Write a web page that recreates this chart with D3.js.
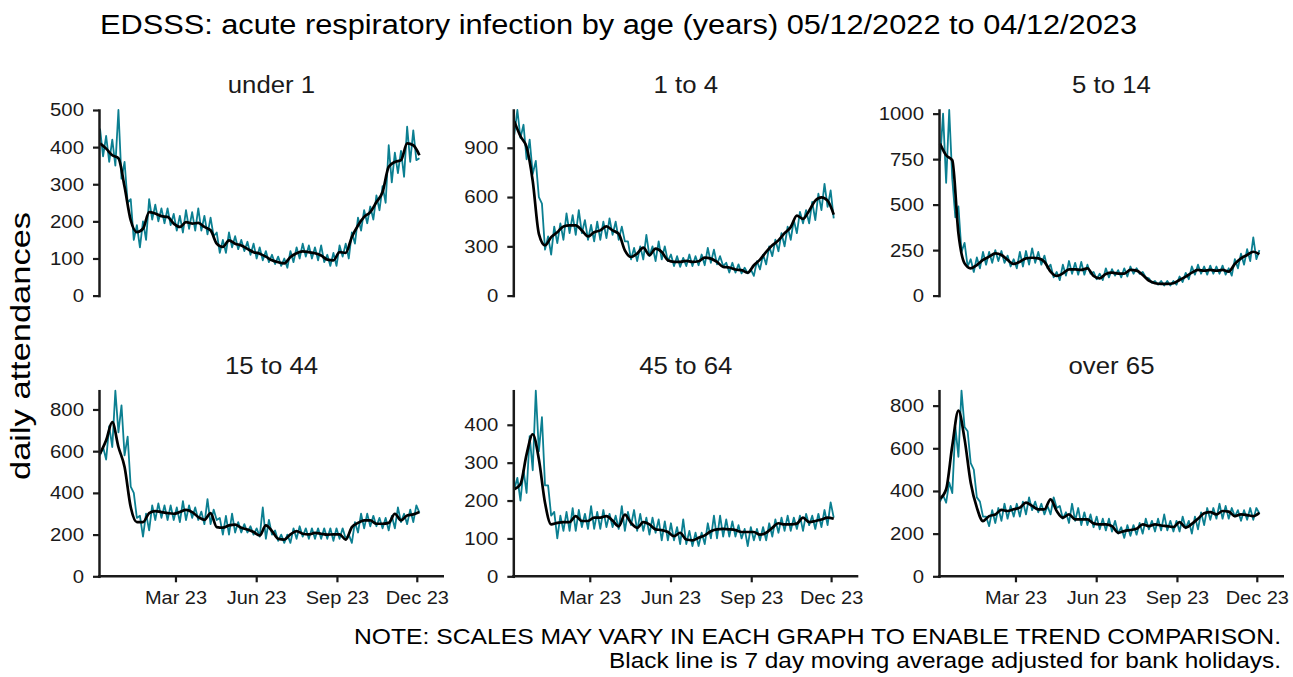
<!DOCTYPE html>
<html>
<head>
<meta charset="utf-8">
<script src="https://cdn.jsdelivr.net/npm/d3@7"></script>
<style>
  body { margin: 0; background: #fff; }
  svg { display: block; font-family: "Liberation Sans", Arial, sans-serif; }
</style>
</head>
<body>
<svg id="chart" width="1293" height="677"></svg>
<script>
// panel names, in facet order
const groups = ['under 1', '1 to 4', '5 to 14', '15 to 44', '45 to 64', 'over 65'];

// daily attendances, every 3.5 days from 05/12/2022
const rawUnder1 = [450,375,430,360,420,350,500,315,360,250,260,150,190,130,200,150,260,205,245,200,
  235,195,235,190,220,175,215,170,230,180,225,175,235,175,215,165,210,160,170,115,
  150,115,170,130,160,125,150,120,145,110,140,100,130,95,120,90,110,85,105,80,
  100,75,120,90,130,100,140,105,135,100,130,95,135,90,110,80,115,80,135,105,
  140,100,170,140,210,175,230,195,240,205,270,230,295,250,405,305,385,330,390,320,
  455,360,445,365,370];
const raw1to4 = [980,1130,960,1040,830,950,740,820,600,560,280,360,250,420,320,440,340,500,380,490,
  370,520,380,460,340,430,330,450,340,450,350,470,370,450,340,420,330,330,220,290,
  210,300,220,370,240,300,210,330,220,300,210,250,180,240,175,230,180,250,180,240,
  185,250,185,290,200,280,190,240,180,200,140,200,140,190,135,170,135,160,120,210,
  160,250,190,300,240,340,270,380,300,420,340,460,380,510,440,520,440,570,460,620,
  520,680,540,640,470];
const raw5to14 = [740,1000,620,1020,640,430,490,240,290,160,200,130,210,150,240,170,240,180,250,190,
  245,180,220,160,200,150,240,160,245,170,260,180,240,170,220,150,170,100,130,85,
  170,110,190,120,180,115,185,115,170,120,130,90,120,85,150,100,145,110,140,100,
  150,105,160,120,150,120,130,100,95,70,80,60,80,55,80,55,80,60,105,75,
  125,90,160,115,170,120,160,115,165,120,160,120,165,115,150,110,200,150,230,170,
  255,190,320,200,250];
const raw15to44 = [580,620,560,720,620,890,690,820,580,670,430,400,280,290,190,300,220,340,270,350,
  280,340,270,340,270,330,260,360,270,340,280,330,270,310,250,370,250,320,270,280,
  200,290,200,300,210,260,210,250,210,240,200,230,190,330,180,270,200,220,170,200,
  160,200,160,230,180,240,190,230,180,230,180,230,180,230,180,230,170,230,180,230,
  180,200,160,260,210,300,230,300,240,290,240,280,230,280,220,290,230,330,260,300,
  250,320,260,340,305];
const raw45to64 = [230,260,200,280,220,370,280,490,330,420,240,240,160,170,100,160,120,170,120,180,
  120,175,130,165,125,185,125,170,125,175,130,165,130,160,125,185,120,170,135,175,
  120,165,120,155,110,155,115,150,95,145,95,140,95,130,85,150,85,120,80,115,
  80,115,85,140,100,160,100,160,105,150,105,145,105,135,100,125,80,130,95,125,
  95,130,95,140,105,150,115,155,120,160,120,155,125,160,120,165,135,160,125,165,
  130,175,135,195,155];
const rawOver65 = [350,380,345,440,390,700,560,870,700,680,530,500,370,350,280,280,235,310,250,320,
  260,340,270,330,280,340,280,350,290,370,310,350,300,340,290,330,290,370,320,330,
  270,300,250,340,260,320,240,300,240,290,230,280,220,270,215,270,210,260,200,230,
  180,240,190,240,195,250,200,270,220,260,210,270,215,290,215,260,210,260,210,280,
  225,260,200,280,220,300,240,320,265,320,270,340,270,330,270,320,280,310,260,310,
  265,320,265,320,295];

// black line: 7 day moving average, one reading per week
const avgUnder1 = [410,396,378,370,293,203,171,180,225,221,214,212,194,185,198,194,196,185,176,140,
  131,149,140,135,126,117,113,105,95,90,87,104,114,119,117,114,108,97,95,117,
  115,158,189,212,225,252,279,347,360,365,410,405,378];
const avg1to4 = [1061,970,904,698,376,306,356,386,421,427,427,397,360,386,397,421,397,376,276,235,
  256,292,246,286,266,215,205,205,211,205,209,231,225,205,175,171,159,155,139,185,
  219,266,306,336,380,417,487,467,517,578,598,578,493];
const avg5to14 = [835,771,744,342,177,150,168,196,214,232,223,196,174,186,205,208,205,186,132,108,
  122,144,144,141,150,108,95,119,126,121,121,141,137,113,82,68,64,64,68,86,
  104,126,141,137,141,137,141,132,174,205,223,241,228];
const avg15to44 = [588,652,739,620,524,332,260,260,303,313,308,303,300,308,319,308,284,271,303,236,
  233,244,248,233,224,212,196,244,217,180,176,201,217,204,201,208,204,200,201,201,
  176,236,256,268,268,252,252,256,300,268,292,297,308];
const avg45to64 = [230,243,322,375,309,194,137,141,143,143,159,146,146,155,155,159,147,132,163,141,
  128,143,137,124,122,117,106,115,97,95,102,108,119,124,125,124,122,117,117,117,
  110,115,128,140,137,137,139,155,143,146,150,155,152];
const avgOver65 = [364,408,612,777,643,439,322,259,282,290,311,306,314,322,345,330,314,314,361,306,
  275,290,267,267,267,248,243,243,235,204,212,217,223,243,235,243,238,235,231,254,
  228,246,270,295,301,290,306,303,282,290,287,282,298];

// y tick labels for each panel
const ticksUnder1 = [0, 100, 200, 300, 400, 500];
const ticks1to4 = [0, 300, 600, 900];
const ticks5to14 = [0, 250, 500, 750, 1000];
const ticks15to44 = [0, 200, 400, 600, 800];
const ticks45to64 = [0, 100, 200, 300, 400];
const ticksOver65 = [0, 200, 400, 600, 800];

const xTicks = ['2023-03-01', '2023-06-01', '2023-09-01', '2023-12-01'];

const raws = [rawUnder1, raw1to4, raw5to14, raw15to44, raw45to64, rawOver65];
const avgs = [avgUnder1, avg1to4, avg5to14, avg15to44, avg45to64, avgOver65];
const ticks = [ticksUnder1, ticks1to4, ticks5to14, ticks15to44, ticks45to64, ticksOver65];

const DAY = 864e5;
const start = Date.UTC(2022, 11, 5);

const colX = [99, 513.3, 939],
    rowY = [110, 390.7],
    panelW = 345,
    panelH = 185.6,
    teal = '#0b7f91',
    ink = '#1a1a1a',
    svg = d3.select('#chart');

// the chart font runs wider than Liberation Sans, so stretch along the baseline
function stretch(sel, k) {
    sel.each(function () {
        const len = this.getComputedTextLength();
        d3.select(this).attr('textLength', len * k).attr('lengthAdjust', 'spacingAndGlyphs');
    });
}

const xScale = d3.scaleUtc()
    .domain([new Date(start), new Date(Date.UTC(2024, 0, 1))])
    .range([1, panelW]);

groups.forEach(function (name, i) {
    const col = i % 3, row = Math.floor(i / 3);
    const g = svg.append('g').attr('transform', 'translate(' + colX[col] + ',' + rowY[row] + ')');
    const raw = raws[i], avg = avgs[i];

    const yScale = d3.scaleLinear().domain([0, d3.max(raw)]).range([panelH, 0]);

    const rawLine = d3.line()
        .x(function (d, j) { return xScale(new Date(start + j * 3.5 * DAY)); })
        .y(function (d) { return yScale(d); });
    const avgLine = d3.line()
        .curve(d3.curveMonotoneX)
        .x(function (d, j) { return xScale(new Date(start + j * 7 * DAY)); })
        .y(function (d) { return yScale(d); });

    g.append('path').datum(raw)
        .attr('d', rawLine)
        .attr('fill', 'none')
        .attr('stroke', teal)
        .attr('stroke-width', 1.8)
        .attr('stroke-linejoin', 'round');
    g.append('path').datum(avg)
        .attr('d', avgLine)
        .attr('fill', 'none')
        .attr('stroke', '#000')
        .attr('stroke-width', 2.7)
        .attr('stroke-linejoin', 'round');

    const yAxis = d3.axisLeft(yScale).tickValues(ticks[i]).tickFormat(d3.format('d'))
        .tickSize(6).tickSizeOuter(0).tickPadding(9);
    g.append('g').call(function (a) {
        a.call(yAxis);
        a.select('.domain').attr('stroke', ink).attr('stroke-width', 2.5).attr('stroke-linecap', 'square');
        a.selectAll('.tick line').attr('stroke', ink).attr('stroke-width', 2.2);
        a.selectAll('.tick text').attr('fill', ink).style('font-size', '18.5px')
            .style('font-family', '"Liberation Sans", Arial, sans-serif');
        stretch(a.selectAll('.tick text'), 1.1);
    });

    // only the bottom row gets a date axis
    if (row === 1) {
        const xAxis = d3.axisBottom(xScale)
            .tickValues(xTicks.map(function (s) { return new Date(s + 'T00:00:00Z'); }))
            .tickFormat(d3.utcFormat('%b %y'))
            .tickSize(6).tickSizeOuter(0).tickPadding(9);
        g.append('g').attr('transform', 'translate(0,' + panelH + ')')
            .call(function (a) {
                a.call(xAxis);
                a.select('.domain').attr('stroke', ink).attr('stroke-width', 2.5)
                    .attr('d', 'M-1,0H' + panelW);
                a.selectAll('.tick line').attr('stroke', ink).attr('stroke-width', 2.2);
                a.selectAll('.tick text').attr('fill', ink).style('font-size', '18.5px')
                    .style('font-family', '"Liberation Sans", Arial, sans-serif');
                stretch(a.selectAll('.tick text'), 1.08);
            });
    }

    const t = g.append('text')
        .attr('x', panelW / 2)
        .attr('y', -17)
        .attr('text-anchor', 'middle')
        .attr('fill', ink)
        .style('font-size', '23px')
        .text(name);
    stretch(t, 1.12);
});

svg.append('text')
    .attr('x', 100).attr('y', 34)
    .attr('fill', '#000')
    .style('font-size', '27px')
    .attr('textLength', 1037).attr('lengthAdjust', 'spacingAndGlyphs')
    .text('EDSSS: acute respiratory infection by age (years) 05/12/2022 to 04/12/2023');

svg.append('text')
    .attr('transform', 'translate(30,346) rotate(-90)')
    .attr('text-anchor', 'middle')
    .attr('fill', '#000')
    .style('font-size', '28px')
    .attr('textLength', 268).attr('lengthAdjust', 'spacingAndGlyphs')
    .text('daily attendances');

svg.append('text')
    .attr('x', 1281).attr('y', 644)
    .attr('text-anchor', 'end')
    .attr('fill', '#000')
    .style('font-size', '21.5px')
    .attr('textLength', 927).attr('lengthAdjust', 'spacingAndGlyphs')
    .text('NOTE: SCALES MAY VARY IN EACH GRAPH TO ENABLE TREND COMPARISON.');

svg.append('text')
    .attr('x', 1281).attr('y', 668)
    .attr('text-anchor', 'end')
    .attr('fill', '#000')
    .style('font-size', '21.5px')
    .attr('textLength', 672).attr('lengthAdjust', 'spacingAndGlyphs')
    .text('Black line is 7 day moving average adjusted for bank holidays.');
</script>
</body>
</html>
